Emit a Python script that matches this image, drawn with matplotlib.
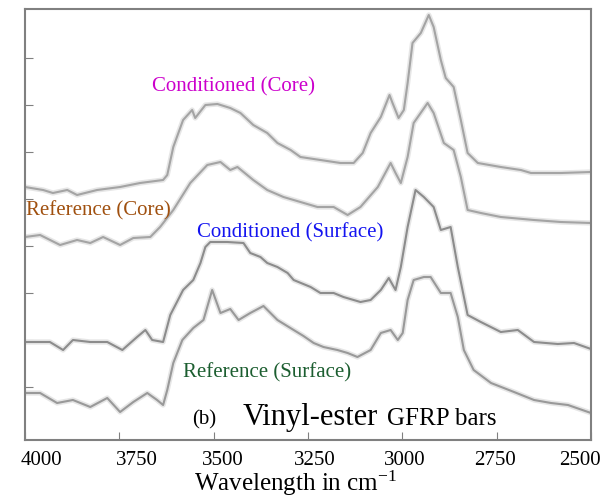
import matplotlib
matplotlib.use("Agg")
import matplotlib.pyplot as plt
import matplotlib.transforms as mtransforms
import numpy as np

plt.rcParams['font.family'] = 'Liberation Serif'
plt.rcParams['mathtext.fontset'] = 'stix'

# FTIR spectra, wavenumber (cm-1) vs stacked absorbance (a.u.)
cond_core_w = [4000, 3952, 3926, 3888, 3862, 3809, 3748, 3695, 3634, 3623, 3607, 3581,
               3557, 3549, 3522, 3490, 3456, 3429, 3395, 3358, 3331, 3296, 3270, 3217,
               3164, 3129, 3105, 3084, 3057, 3034, 3026, 3010, 2996, 2986, 2973, 2951,
               2930, 2917, 2898, 2885, 2864, 2845, 2827, 2800, 2739, 2686, 2659, 2580, 2500]
cond_core_a = [2.53, 2.50, 2.47, 2.50, 2.45, 2.50, 2.53, 2.57, 2.60, 2.65, 2.93, 3.20,
               3.30, 3.22, 3.35, 3.36, 3.32, 3.27, 3.15, 3.07, 2.97, 2.90, 2.83, 2.80,
               2.77, 2.77, 2.87, 3.07, 3.23, 3.45, 3.37, 3.22, 3.30, 3.57, 3.97, 4.07,
               4.25, 4.13, 3.80, 3.62, 3.53, 3.20, 2.87, 2.77, 2.73, 2.70, 2.67, 2.67, 2.68]

ref_core_w = [4000, 3960, 3907, 3862, 3827, 3793, 3748, 3713, 3668, 3642, 3607, 3562,
              3517, 3482, 3456, 3437, 3395, 3358, 3315, 3270, 3225, 3182, 3145, 3111,
              3065, 3031, 3018, 3004, 2986, 2970, 2933, 2917, 2890, 2864, 2845, 2827,
              2792, 2739, 2651, 2580, 2500]
ref_core_a = [2.03, 2.05, 1.95, 2.00, 1.97, 2.03, 1.95, 2.02, 2.03, 2.13, 2.30, 2.57,
              2.75, 2.78, 2.70, 2.73, 2.60, 2.50, 2.43, 2.38, 2.33, 2.33, 2.25, 2.33,
              2.53, 2.77, 2.67, 2.57, 2.83, 3.17, 3.37, 3.27, 2.97, 2.90, 2.63, 2.30,
              2.27, 2.23, 2.20, 2.18, 2.17]

cond_surf_w = [4000, 3934, 3899, 3873, 3827, 3782, 3742, 3703, 3681, 3663, 3634, 3615,
               3581, 3554, 3535, 3522, 3509, 3464, 3421, 3403, 3376, 3358, 3331, 3304,
               3288, 3243, 3217, 3182, 3156, 3111, 3084, 3057, 3036, 3018, 3004, 2986,
               2965, 2943, 2917, 2898, 2872, 2853, 2827, 2792, 2739, 2694, 2651, 2588,
               2545, 2500]
cond_surf_a = [0.98, 0.98, 0.90, 1.00, 0.98, 0.98, 0.90, 1.03, 1.10, 1.00, 0.98, 1.25,
               1.50, 1.60, 1.77, 1.93, 1.98, 1.98, 1.97, 1.87, 1.83, 1.77, 1.73, 1.67,
               1.60, 1.53, 1.47, 1.47, 1.43, 1.38, 1.40, 1.50, 1.62, 1.50, 1.73, 2.13,
               2.50, 2.43, 2.33, 2.10, 2.13, 1.73, 1.25, 1.18, 1.08, 1.10, 0.98, 0.96,
               0.97, 0.91]

ref_surf_w = [4000, 3960, 3915, 3873, 3827, 3782, 3748, 3713, 3676, 3650, 3634, 3623,
              3607, 3583, 3554, 3527, 3504, 3482, 3456, 3434, 3403, 3368, 3331, 3288,
              3262, 3235, 3209, 3172, 3145, 3119, 3084, 3057, 3031, 3012, 2999, 2986,
              2970, 2943, 2925, 2898, 2872, 2853, 2837, 2811, 2765, 2704, 2651, 2606,
              2561, 2500]
ref_surf_a = [0.47, 0.47, 0.37, 0.40, 0.33, 0.42, 0.28, 0.38, 0.47, 0.40, 0.35, 0.50,
              0.77, 1.00, 1.12, 1.20, 1.50, 1.27, 1.31, 1.20, 1.27, 1.34, 1.20, 1.10,
              1.04, 0.97, 0.93, 0.90, 0.87, 0.83, 0.90, 1.07, 1.10, 1.00, 1.07, 1.40,
              1.60, 1.63, 1.63, 1.47, 1.47, 1.23, 0.90, 0.70, 0.57, 0.48, 0.40, 0.37,
              0.35, 0.27]

xticks = [4000, 3750, 3500, 3250, 3000, 2750, 2500]
# tick labels sit a little inside their ticks (pixels)
label_shift = [16, 18, 9, 7, 2, -2, -11]

fig = plt.figure(figsize=(6.03, 5.04), dpi=100)
ax = fig.add_axes([25 / 603, 64 / 504, 566 / 603, 431 / 504])

spectra = [(cond_core_w, cond_core_a, '#a4a4a4'), (ref_core_w, ref_core_a, '#a4a4a4'),
           (cond_surf_w, cond_surf_a, '#8c8c8c'), (ref_surf_w, ref_surf_a, '#999999')]
for w, a, c in spectra:
    ax.plot(w, a, color='#e6e6e6', lw=3.8, solid_joinstyle='round')
    ax.plot(w, a, color=c, lw=1.5, solid_joinstyle='round')

ax.set_xlim(4000, 2500)
ax.set_ylim(0, 4.31)

# labels for each spectrum
ax.text(3448, 3.53, 'Conditioned (Core)', color='#cc00cc', fontsize=15,
        ha='center', va='center')
ax.text(3806, 2.29, 'Reference (Core)', color='#a0500f', fontsize=15,
        ha='center', va='center')
ax.text(3296, 2.07, 'Conditioned (Surface)', color='#1414f0', fontsize=15,
        ha='center', va='center')
ax.text(3358, 0.67, 'Reference (Surface)', color='#1c5e30', fontsize=15,
        ha='center', va='center')

ax.text(0.295, 0.035, '(b)', transform=ax.transAxes, fontsize=15, va='baseline')
ax.text(0.385, 0.035, 'Vinyl-ester', transform=ax.transAxes, fontsize=22, va='baseline')
ax.text(0.640, 0.035, 'GFRP bars', transform=ax.transAxes, fontsize=18, va='baseline')

ax.set_xticks(xticks)
ax.set_xticklabels([str(t) for t in xticks])
ax.set_yticks(np.arange(0.53, 4.0, 0.47))
ax.set_yticklabels([])
ax.tick_params(axis='x', direction='in', length=6, color='#808080', labelsize=15, pad=8)
ax.tick_params(axis='y', direction='in', length=6, color='#808080')
for lab, dx in zip(ax.get_xticklabels(), label_shift):
    lab.set_transform(lab.get_transform() +
                      mtransforms.ScaledTranslation(dx / 100, 0, fig.dpi_scale_trans))
ax.set_xlabel(r'Wavelength in cm$^{\mathregular{-1}}$', fontsize=18)
ax.xaxis.set_label_coords(0.478, -0.066)

for s in ax.spines.values():
    s.set_color('#808080')
    s.set_linewidth(1.5)

fig.savefig('out.png', dpi=100)
